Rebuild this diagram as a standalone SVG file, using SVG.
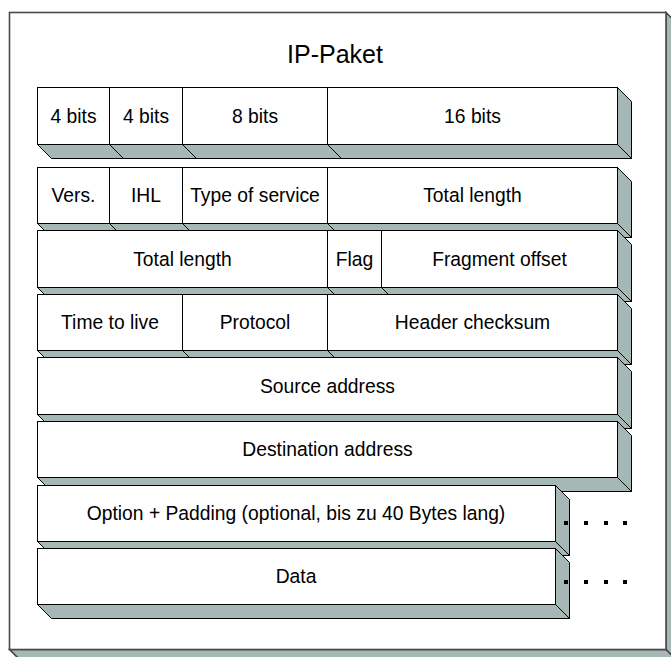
<svg xmlns="http://www.w3.org/2000/svg" width="671" height="657" viewBox="0 0 671 657">
  <style>
    .face { fill: #a6b8b5; stroke: #000; stroke-width: 1; stroke-linejoin: miter; }
    .front { fill: #fff; stroke: #000; stroke-width: 1; }
    .div { stroke: #000; stroke-width: 1; fill: none; }
    .lbl { font-family: "Liberation Sans", Arial, sans-serif; font-size: 19.3px; fill: #000; text-anchor: middle; }
    .title { font-family: "Liberation Sans", Arial, sans-serif; font-size: 25px; fill: #000; text-anchor: middle; }
    .frameFace { fill: #a6b8b5; stroke: #404040; stroke-width: 1.5; }
    .frameFront { fill: #fff; stroke: #4a4a4a; stroke-width: 1.6; }
    .dot { fill: #000; }
  </style>

  <!-- outer packet frame -->
  <g id="frame">
    <polygon class="frameFace" points="666,12.5 676,22.5 676,659.5 666,649.5"/>
    <polygon class="frameFace" points="9.5,649.5 666,649.5 676,659.5 19.5,659.5"/>
    <rect class="frameFront" x="9.5" y="12.5" width="656.5" height="637"/>
    <text class="title" x="335" y="63.3">IP-Paket</text>
  </g>

  <!-- row 1: field widths -->
  <g id="row-bits">
    <polygon class="face" points="617.5,87.5 631.5,101.5 631.5,158.5 617.5,144.5"/>
    <polygon class="face" points="37.5,144.5 617.5,144.5 631.5,158.5 51.5,158.5"/>
    <rect class="front" x="37.5" y="87.5" width="580" height="57"/>
    <path class="div" d="M109.5,87.5V144.5L123.5,158.5M182.5,87.5V144.5L196.5,158.5M327.5,87.5V144.5L341.5,158.5"/>
    <text class="lbl" x="73.5" y="122.7">4 bits</text>
    <text class="lbl" x="146" y="122.7">4 bits</text>
    <text class="lbl" x="255" y="122.7">8 bits</text>
    <text class="lbl" x="472.5" y="122.7">16 bits</text>
  </g>

  <!-- row 2 -->
  <g id="row-version">
    <polygon class="face" points="617.5,167.5 631.5,181.5 631.5,237.5 617.5,223.5"/>
    <polygon class="face" points="37.5,223.5 617.5,223.5 631.5,237.5 51.5,237.5"/>
    <rect class="front" x="37.5" y="167.5" width="580" height="56"/>
    <path class="div" d="M109.5,167.5V223.5L123.5,237.5M182.5,167.5V223.5L196.5,237.5M327.5,167.5V223.5L341.5,237.5"/>
    <text class="lbl" x="73.5" y="202">Vers.</text>
    <text class="lbl" x="146" y="202">IHL</text>
    <text class="lbl" x="255" y="202">Type of service</text>
    <text class="lbl" x="472.5" y="202">Total length</text>
  </g>

  <!-- row 3 -->
  <g id="row-fragment">
    <polygon class="face" points="617.5,230.5 631.5,244.5 631.5,301.5 617.5,287.5"/>
    <polygon class="face" points="37.5,287.5 617.5,287.5 631.5,301.5 51.5,301.5"/>
    <rect class="front" x="37.5" y="230.5" width="580" height="57"/>
    <path class="div" d="M327.5,230.5V287.5L341.5,301.5M381.5,230.5V287.5L395.5,301.5"/>
    <text class="lbl" x="182.5" y="265.7">Total length</text>
    <text class="lbl" x="354.5" y="265.7">Flag</text>
    <text class="lbl" x="499.5" y="265.7">Fragment offset</text>
  </g>

  <!-- row 4 -->
  <g id="row-ttl">
    <polygon class="face" points="617.5,294.5 631.5,308.5 631.5,364.5 617.5,350.5"/>
    <polygon class="face" points="37.5,350.5 617.5,350.5 631.5,364.5 51.5,364.5"/>
    <rect class="front" x="37.5" y="294.5" width="580" height="56"/>
    <path class="div" d="M182.5,294.5V350.5L196.5,364.5M327.5,294.5V350.5L341.5,364.5"/>
    <text class="lbl" x="110" y="329">Time to live</text>
    <text class="lbl" x="255" y="329">Protocol</text>
    <text class="lbl" x="472.5" y="329">Header checksum</text>
  </g>

  <!-- row 5 -->
  <g id="row-source">
    <polygon class="face" points="617.5,357.5 631.5,371.5 631.5,428.5 617.5,414.5"/>
    <polygon class="face" points="37.5,414.5 617.5,414.5 631.5,428.5 51.5,428.5"/>
    <rect class="front" x="37.5" y="357.5" width="580" height="57"/>
    <text class="lbl" x="327.5" y="392.6">Source address</text>
  </g>

  <!-- row 6 -->
  <g id="row-destination">
    <polygon class="face" points="617.5,421.5 631.5,435.5 631.5,491.5 617.5,477.5"/>
    <polygon class="face" points="37.5,477.5 617.5,477.5 631.5,491.5 51.5,491.5"/>
    <rect class="front" x="37.5" y="421.5" width="580" height="56"/>
    <text class="lbl" x="327.5" y="456">Destination address</text>
  </g>

  <!-- row 7: variable options -->
  <g id="row-options">
    <polygon class="face" points="555.5,485.5 569.5,499.5 569.5,555.5 555.5,541.5"/>
    <polygon class="face" points="37.5,541.5 555.5,541.5 569.5,555.5 51.5,555.5"/>
    <rect class="front" x="37.5" y="485.5" width="518" height="56"/>
    <text class="lbl" x="296" y="519.5">Option + Padding (optional, bis zu 40 Bytes lang)</text>
  </g>

  <!-- row 8: payload -->
  <g id="row-data">
    <polygon class="face" points="555.5,548.5 569.5,562.5 569.5,618.5 555.5,604.5"/>
    <polygon class="face" points="37.5,604.5 555.5,604.5 569.5,618.5 51.5,618.5"/>
    <rect class="front" x="37.5" y="548.5" width="518" height="56"/>
    <text class="lbl" x="296" y="583">Data</text>
  </g>

  <!-- continuation dots -->
  <g id="continuation">
    <rect class="dot" x="564" y="521" width="4" height="4"/>
    <rect class="dot" x="584" y="521" width="4" height="4"/>
    <rect class="dot" x="604" y="521" width="4" height="4"/>
    <rect class="dot" x="623" y="521" width="4" height="4"/>
    <rect class="dot" x="564" y="580" width="4" height="4"/>
    <rect class="dot" x="584" y="580" width="4" height="4"/>
    <rect class="dot" x="604" y="580" width="4" height="4"/>
    <rect class="dot" x="623" y="580" width="4" height="4"/>
  </g>
</svg>
